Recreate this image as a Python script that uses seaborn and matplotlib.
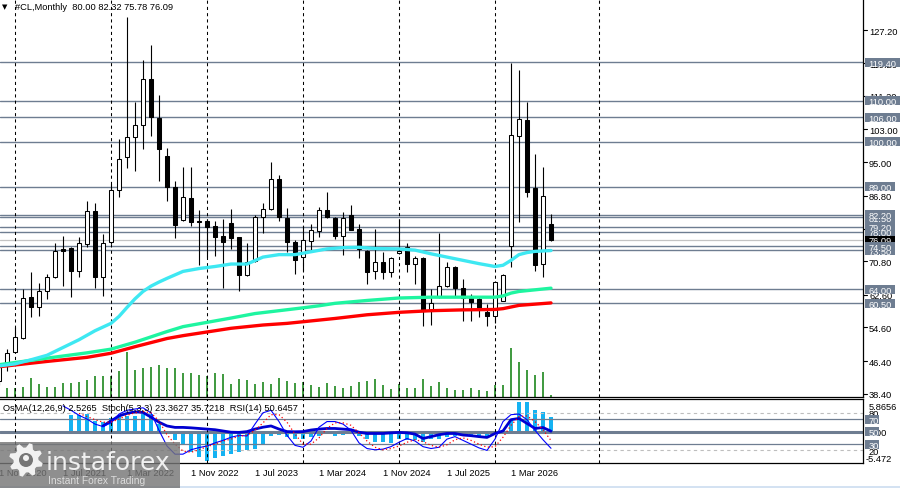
import numpy as np
import pandas as pd
import matplotlib
matplotlib.use("Agg")
import matplotlib.pyplot as plt
import matplotlib.transforms as mtransforms
from matplotlib.patches import Rectangle, Polygon, Circle
import seaborn as sns

# ---------------- data ----------------
months = pd.date_range("2020-11-01", "2026-08-01", freq="MS")

opens = [41.6, 45.3,
         48.5, 52.0, 62.0, 59.5, 63.6, 67.0, 73.7, 74.0, 68.5, 75.0, 83.0, 67.0,
         75.6, 88.2, 96.2, 101.2, 104.1, 115.3, 105.8, 96.6, 89.0, 80.9, 86.2, 80.7,
         80.7, 79.3, 77.0, 80.1, 76.6, 67.4, 70.9, 81.7, 83.5, 90.9, 81.4, 75.6,
         71.7, 75.8, 78.2, 83.3, 81.4, 76.9, 82.1, 78.6, 73.4, 68.5, 70.5, 68.1,
         72.8, 74.2, 70.1, 71.5, 58.7, 62.0, 64.8, 69.3, 64.2, 62.4, 61.6, 58.3,
         57.5, 61.1, 74.6, 101.5, 105.3, 88.6, 70.1, 80.00]
highs = [45.8, 49.3,
         54.6, 64.0, 68.2, 65.4, 67.7, 75.2, 77.0, 74.3, 76.6, 85.4, 84.9, 77.4,
         89.7, 100.7, 130.4, 109.6, 120.0, 123.7, 111.5, 98.5, 90.5, 93.7, 93.7, 83.3,
         81.0, 80.7, 81.1, 83.6, 76.8, 75.2, 82.1, 84.9, 95.1, 91.9, 83.8, 76.0,
         79.5, 79.9, 84.0, 87.8, 81.6, 82.7, 84.5, 80.0, 73.6, 78.6, 73.0, 71.8,
         81.1, 75.2, 72.0, 71.7, 64.0, 77.7, 70.5, 69.5, 66.4, 62.8, 62.0, 60.3,
         65.9, 67.7, 119.2, 117.6, 109.6, 97.0, 93.7, 82.32]
lows = [40.5, 44.0,
        48.3, 51.8, 57.2, 57.5, 61.6, 66.8, 64.8, 62.0, 67.0, 74.2, 64.2, 62.4,
        75.0, 86.6, 93.6, 92.9, 98.2, 101.5, 90.5, 85.6, 76.4, 80.7, 79.5, 69.9,
        71.7, 72.1, 64.2, 73.8, 63.6, 67.2, 70.7, 77.6, 83.4, 80.7, 73.0, 67.7,
        68.5, 73.0, 76.8, 81.3, 76.2, 72.3, 78.3, 71.5, 65.2, 66.4, 66.4, 67.0,
        72.6, 68.2, 65.2, 55.0, 55.2, 61.8, 64.6, 62.0, 56.3, 56.3, 57.1, 55.0,
        55.7, 61.0, 69.3, 80.4, 86.4, 68.5, 67.0, 75.78]
closes = [45.3, 48.3,
          52.3, 61.8, 59.5, 63.4, 66.9, 73.4, 73.2, 68.5, 75.2, 83.1, 67.0, 75.2,
          88.2, 95.8, 101.1, 104.1, 115.3, 106.1, 98.2, 88.9, 79.7, 86.6, 80.4, 80.3,
          79.1, 76.8, 75.6, 76.5, 67.4, 70.5, 81.7, 83.5, 90.9, 81.5, 75.6, 71.2,
          76.0, 78.4, 83.3, 81.5, 77.0, 81.4, 78.5, 73.8, 68.2, 70.5, 68.1, 71.5,
          73.4, 70.1, 71.5, 58.7, 60.6, 64.8, 69.3, 64.2, 61.7, 60.9, 59.1, 57.5,
          65.8, 67.3, 101.7, 105.5, 87.8, 69.9, 86.8, 76.09]
volumes = [8, 9,
           9, 10, 19, 13, 10, 10, 14, 14, 15, 17, 21, 21,
           21, 26, 45, 27, 29, 30, 32, 29, 29, 24, 24, 22,
           21, 24, 23, 13, 18, 17, 13, 15, 13, 19, 16, 14,
           15, 12, 10, 14, 11, 9, 11, 15, 16, 18, 12, 8,
           13, 9, 9, 18, 11, 15, 9, 7, 7, 9, 7, 6,
           12, 12, 49, 35, 27, 22, 25, 2]

# moving averages read at selected months
ma_fast_dates = ["2020-11", "2021-01", "2021-03", "2021-05", "2021-07", "2021-09", "2021-11",
                 "2022-01", "2022-02", "2022-03", "2022-04", "2022-05", "2022-06", "2022-07",
                 "2022-08", "2022-10", "2022-12", "2023-02", "2023-04", "2023-06", "2023-08",
                 "2023-10", "2023-12", "2024-02", "2024-04", "2024-06", "2024-08", "2024-10",
                 "2025-01", "2025-03", "2025-05", "2025-07", "2025-09", "2025-11", "2026-01",
                 "2026-02", "2026-03", "2026-04", "2026-05", "2026-06", "2026-08"]
ma_fast = [45.2, 45.7, 46.7, 47.8, 49.7, 51.6, 53.8,
           55.6, 57.3, 59.5, 61.6, 63.4, 64.7, 65.7,
           66.6, 68.3, 69.0, 69.5, 70.1, 70.1, 71.8,
           72.4, 72.4, 73.1, 73.8, 74.1, 74.2, 73.9,
           73.8, 73.5, 72.6, 71.8, 71.0, 70.2, 69.5,
           69.8, 71.0, 72.4, 72.9, 73.2, 73.4]
ma_mid_dates = ["2020-11", "2021-05", "2021-10", "2022-01", "2022-04", "2022-08", "2022-10",
                "2022-12", "2023-04", "2023-07", "2023-10", "2024-01", "2024-03", "2024-05",
                "2024-09", "2025-01", "2025-05", "2025-09", "2026-01", "2026-02", "2026-03",
                "2026-04", "2026-06", "2026-08"]
ma_mid = [45.5, 47.1, 48.4, 49.3, 51.0, 53.6, 54.8,
          55.5, 56.9, 58.0, 58.7, 59.4, 59.9, 60.5,
          61.2, 61.8, 62.0, 62.0, 62.0, 62.3, 63.0,
          63.4, 63.8, 64.2]
ma_slow_dates = ["2020-11", "2021-05", "2021-10", "2022-01", "2022-04", "2022-08", "2022-10",
                 "2022-12", "2023-04", "2023-08", "2023-11", "2024-01", "2024-05", "2024-09",
                 "2025-01", "2025-05", "2025-09", "2026-01", "2026-02", "2026-03", "2026-04",
                 "2026-06", "2026-08"]
ma_slow = [45.0, 46.3, 47.3, 48.3, 49.9, 51.9, 52.6,
           53.2, 54.4, 55.2, 55.6, 56.0, 56.8, 57.7,
           58.3, 58.7, 58.9, 59.0, 59.2, 59.6, 60.0,
           60.3, 60.6]

nan = np.nan
osma = [nan] * 9 + [2.9, 2.9, 3.1, 1.9, 1.65,
                    2.35, 2.5, 2.8, 2.8, 3.4, 3.1, 1.35, -0.4, -1.4, -2.4, -3.6, -4.5,
                    -5.1, -4.7, -4.2, -3.9, -3.6, -3.2, -3.1, -2.2, -0.7, -0.55, -0.9, -1.3,
                    -1.3, -1.0, -0.7, -0.4, -0.7, -0.5, -0.4, -0.7, -1.3, -1.75, -1.85, -1.95,
                    -1.3, -1.5, -1.4, -1.8, -1.3, -1.3, -1.0, -0.7, -0.6, -0.7, -0.9, -0.9,
                    -0.3, 0.3, 2.0, 5.2, 5.2, 3.8, 3.4, 2.5265]
stoch_main = [nan] * 8 + [91, 84, 76, 70, 62, 58,
                          64, 78, 84, 86, 88, 80, 52, 27, 14, 14, 21, 24.5,
                          27, 32, 36, 41, 44, 43, 62, 80, 84, 66, 44, 28,
                          25, 35, 57, 66, 66, 62, 52, 32, 23, 21, 22, 26,
                          33, 39, 35, 26, 23, 25, 38, 42, 36, 30, 24, 20,
                          38, 66, 77, 78, 69, 52, 37, 23.3627]
stoch_signal = [nan] * 10 + [79, 74, 69, 65,
                             65, 70, 76, 80, 82, 80, 67, 45, 30, 19, 17, 21,
                             26, 30, 35, 38, 43, 44, 52, 64, 77, 77, 65, 46,
                             30, 30, 40, 55, 64, 64, 60, 48, 35, 25, 21, 23,
                             27, 33, 37, 34, 28, 25, 29, 37, 40, 36, 30, 25,
                             26, 41, 60, 74, 75, 66, 53, 35.7218]
rsi = [nan] * 13 + [59,
                    67, 75, 79, 81.5, 80.6, 73, 65, 59, 56.7, 56.7, 56, 55,
                    54, 53, 51, 49, 48.7, 50, 54, 57, 59, 54, 50, 49.7,
                    50, 52.5, 54, 55, 55, 54, 53, 49, 47, 47, 47, 48,
                    48.7, 48, 46, 39, 42, 45, 47, 47, 44.5, 43.5, 42, 40.7,
                    47, 51, 69, 71, 63, 55, 56.5, 50.6457]

price_levels = [119.40, 110.00, 106.00, 100.00, 89.00, 82.20, 81.50, 79.20, 78.00,
                74.50, 73.50, 64.00, 60.50]
price_ticks = [127.20, 119.20, 111.20, 103.00, 95.00, 86.80, 78.60, 70.80, 62.60,
               54.60, 46.40, 38.40]
label_months = ["2020-11", "2021-07", "2022-03", "2022-11", "2023-07", "2024-03",
                "2024-11", "2025-07", "2026-03"]
grid_months = ["2021-01", "2022-01", "2023-01", "2024-01", "2025-01", "2026-01", "2027-02"]
symbol_title = "#CL,Monthly"
ind_title = "OsMA(12,26,9) 2.5265  Stoch(5,3,3) 23.3627 35.7218  RSI(14) 50.6457"

# ---------------- helpers ----------------
def mpos(s):
    t = pd.Timestamp(s + "-01")
    return (t.year - months[0].year) * 12 + (t.month - months[0].month)

xpos = np.arange(len(months))
df = pd.DataFrame({"x": xpos, "open": opens, "high": highs, "low": lows,
                   "close": closes, "vol": volumes, "osma": osma,
                   "stoch": stoch_main, "signal": stoch_signal, "rsi": rsi})

# ---------------- style ----------------
sns.set_theme(style="white")
plt.rcParams["font.family"] = ["Liberation Sans", "DejaVu Sans"]
plt.rcParams["axes.linewidth"] = 0.8

W, H = 900, 489
PLOT_R = 863.0
MAIN_B = 397.5
IND_T, IND_B = 399.5, 464.0
SLATE = "#6E7D91"
FS = 6.7

fig = plt.figure(figsize=(9, 4.89), dpi=100)
fig.patch.set_facecolor("white")

XL = (0.125, 108.0)
YL = (37.73, 134.87)

# volume axes (behind)
axv = fig.add_axes([0, 1 - MAIN_B / H, PLOT_R / W, MAIN_B / H], zorder=0)
axv.set_xlim(*XL)
axv.set_ylim(0, MAIN_B)
axv.axis("off")
axv.vlines(df["x"], 0, df["vol"], colors="#0A7D0A", lw=1.1)

# main price axes
ax = fig.add_axes([0, 1 - MAIN_B / H, PLOT_R / W, MAIN_B / H], zorder=1)
ax.patch.set_visible(False)
ax.set_xlim(*XL)
ax.set_ylim(*YL)
ax.set_xticks([])
ax.set_yticks([])
for s in ["left", "top"]:
    ax.spines[s].set_visible(False)
for s in ["right", "bottom"]:
    ax.spines[s].set_color("black")
    ax.spines[s].set_linewidth(0.9)

for lv in price_levels:
    ax.axhline(lv, color=SLATE, lw=1.0, zorder=1.5)
ax.axhline(closes[-1], color="#C4C4C4", lw=0.9, zorder=1.5)
for g in grid_months:
    ax.axvline(mpos(g), color="black", lw=0.75, ls=(0, (3, 3)), zorder=1.6)

# candles
ax.vlines(df["x"], df["low"], df["high"], colors="black", lw=0.8, zorder=3)
up = df["close"] >= df["open"]
body_bot = np.minimum(df["open"], df["close"])
body_h = np.maximum(np.abs(df["close"] - df["open"]), 0.3)
ax.bar(df["x"][up], body_h[up], bottom=body_bot[up], width=0.58,
       color="white", edgecolor="black", linewidth=0.75, zorder=4)
ax.bar(df["x"][~up], body_h[~up], bottom=body_bot[~up], width=0.58,
       color="black", edgecolor="black", linewidth=0.75, zorder=4)

# moving averages
sns.lineplot(x=[mpos(d) for d in ma_slow_dates], y=ma_slow, ax=ax, color="#FF0000",
             lw=2.4, zorder=5)
sns.lineplot(x=[mpos(d) for d in ma_mid_dates], y=ma_mid, ax=ax, color="#1EF5A0",
             lw=2.4, zorder=5)
sns.lineplot(x=[mpos(d) for d in ma_fast_dates], y=ma_fast, ax=ax, color="#3EE8F2",
             lw=2.4, zorder=5)
ax.set_xlim(*XL)
ax.set_ylim(*YL)
ax.set_xlabel("")
ax.set_ylabel("")

# right price scale
trm = mtransforms.blended_transform_factory(fig.transFigure, ax.transData)
units_per_px = (YL[1] - YL[0]) / MAIN_B
for t in price_ticks:
    ax.plot([PLOT_R / W, (PLOT_R + 4) / W], [t, t], color="black", lw=0.8,
            transform=trm, clip_on=False, zorder=6)
    ax.text(869 / W, t, f"{t:.2f}", transform=trm, fontsize=FS, color="black",
            va="center_baseline", ha="left", clip_on=False, zorder=6)


def price_box(tgt, val, txt, fc, z, trans, upp, x0=865):
    hh = 9 * upp
    w = 3 + 5.4 * len(txt)
    tgt.add_patch(Rectangle((x0 / W, val - hh / 2), w / W, hh, transform=trans,
                            facecolor=fc, edgecolor="none", clip_on=False, zorder=z))
    tgt.text((x0 + 3.5) / W, val, txt, transform=trans, fontsize=FS, color="white",
             va="center_baseline", ha="left", clip_on=False, zorder=z + 0.005)


price_box(ax, closes[-1], f"{closes[-1]:.2f}", "black", 7, trm, units_per_px)
for k, lv in enumerate(sorted(price_levels)):
    price_box(ax, lv, f"{lv:.2f}", SLATE, 8 + 0.01 * k, trm, units_per_px)

# ---------------- indicator window ----------------
IRECT = [0, 1 - IND_B / H, PLOT_R / W, (IND_B - IND_T) / H]
axo = fig.add_axes(IRECT, zorder=0)
axo.set_xlim(*XL)
axo.set_ylim(-5.50, 5.83)
axo.axis("off")
axo.bar(df["x"], df["osma"], width=0.4, color="#14B2F2", edgecolor="none",
        linewidth=0, zorder=2)

axi = fig.add_axes(IRECT, zorder=1)
axi.patch.set_visible(False)
axi.set_xlim(*XL)
axi.set_ylim(-0.1, 102.8)
axi.set_xticks([])
axi.set_yticks([])
axi.spines["left"].set_visible(False)
for s in ["right", "bottom", "top"]:
    axi.spines[s].set_color("black")
    axi.spines[s].set_linewidth(0.9)
for lv in (80, 20):
    axi.axhline(lv, color="#BEBEBE", lw=0.8, ls=(0, (3, 3)), zorder=1)
for lv in (70, 30):
    axi.axhline(lv, color=SLATE, lw=0.9, zorder=1)
axi.axhline(50, color=SLATE, lw=2.2, zorder=1)
for g in grid_months:
    axi.axvline(mpos(g), color="black", lw=0.75, ls=(0, (3, 3)), zorder=1.2)

sns.lineplot(data=df, x="x", y="rsi", ax=axi, color="#0000D0", lw=2.0, zorder=4)
sns.lineplot(data=df, x="x", y="stoch", ax=axi, color="#0000FF", lw=0.8, zorder=4)
sns.lineplot(data=df, x="x", y="signal", ax=axi, color="#FF0000", lw=0.9,
             ls=(0, (1, 2)), zorder=4)
axi.set_xlim(*XL)
axi.set_ylim(-0.1, 102.8)
axi.set_xlabel("")
axi.set_ylabel("")

tri = mtransforms.blended_transform_factory(fig.transFigure, axi.transData)
ind_upp = 102.9 / (IND_B - IND_T)
axi.text(869 / W, 80, "80", transform=tri, fontsize=FS, color="black",
         va="center_baseline", clip_on=False, zorder=6)
axi.text(869 / W, 20, "20", transform=tri, fontsize=FS, color="black",
         va="center_baseline", clip_on=False, zorder=6)
axi.text(869 / W, 50, "0.00", transform=tri, fontsize=FS, color="black",
         va="center_baseline", clip_on=False, zorder=6)
fig.text(869 / W, 1 - 406.5 / H, "5.8656", fontsize=FS, color="black",
         va="center_baseline", zorder=6)
fig.text(866 / W, 1 - 458.5 / H, "-5.472", fontsize=FS, color="black",
         va="center_baseline", zorder=6)
for k, lv in enumerate((30, 50, 70)):
    price_box(axi, lv, f"{lv}", SLATE, 8 + 0.01 * k, tri, ind_upp)

fig.text(3 / W, 1 - 407.5 / H, ind_title, fontsize=FS, color="black", va="center_baseline")

# x labels
trx = mtransforms.blended_transform_factory(axi.transData, fig.transFigure)
for lm in label_months:
    t = pd.Timestamp(lm + "-01")
    axi.text(mpos(lm), 1 - 472.7 / H, f"1 {t:%b %Y}", transform=trx, fontsize=FS,
             color="black", ha="left", va="center_baseline", clip_on=False)

# title
fig.text(2 / W, 1 - 7 / H, "\u25BC", fontsize=5, color="black", va="center",
         family=["DejaVu Sans"])
fig.text(15 / W, 1 - 7 / H,
         f"{symbol_title}  {opens[-1]:.2f} {highs[-1]:.2f} {lows[-1]:.2f} {closes[-1]:.2f}",
         fontsize=FS, color="black", va="center_baseline")

# ---------------- overlay (scrollbar strip, watermark) ----------------
axw = fig.add_axes([0, 0, 1, 1], zorder=20)
axw.set_xlim(0, W)
axw.set_ylim(H, 0)
axw.axis("off")
axw.patch.set_visible(False)
axw.add_patch(Rectangle((0, 486.5), W, 2.5, facecolor="#D4E2F2", edgecolor="none"))
axw.add_patch(Rectangle((0, 443), 180, 46, facecolor="#767676", edgecolor="none", alpha=0.82))
ang = np.linspace(0, 2 * np.pi, 33)[:-1] + np.pi / 16
rad = np.where((np.arange(32) // 2) % 2 == 0, 17, 12.5)
axw.add_patch(Polygon(np.c_[26 + rad * np.cos(ang), 461 + rad * np.sin(ang)],
                      closed=True, facecolor="#F2F2F2", edgecolor="none"))
axw.add_patch(Circle((26, 461), 7, facecolor="#767676", edgecolor="none"))
axw.add_patch(Circle((26, 459), 3, facecolor="#F2F2F2", edgecolor="none"))
axw.text(46, 470, "instaforex", fontsize=18, color="#F0F0F0", va="baseline",
         ha="left", family=["DejaVu Sans"])
axw.text(48, 483.5, "Instant Forex Trading", fontsize=7.4, color="#DCDCDC",
         va="baseline", ha="left")

fig.savefig("out.png", dpi=100)
